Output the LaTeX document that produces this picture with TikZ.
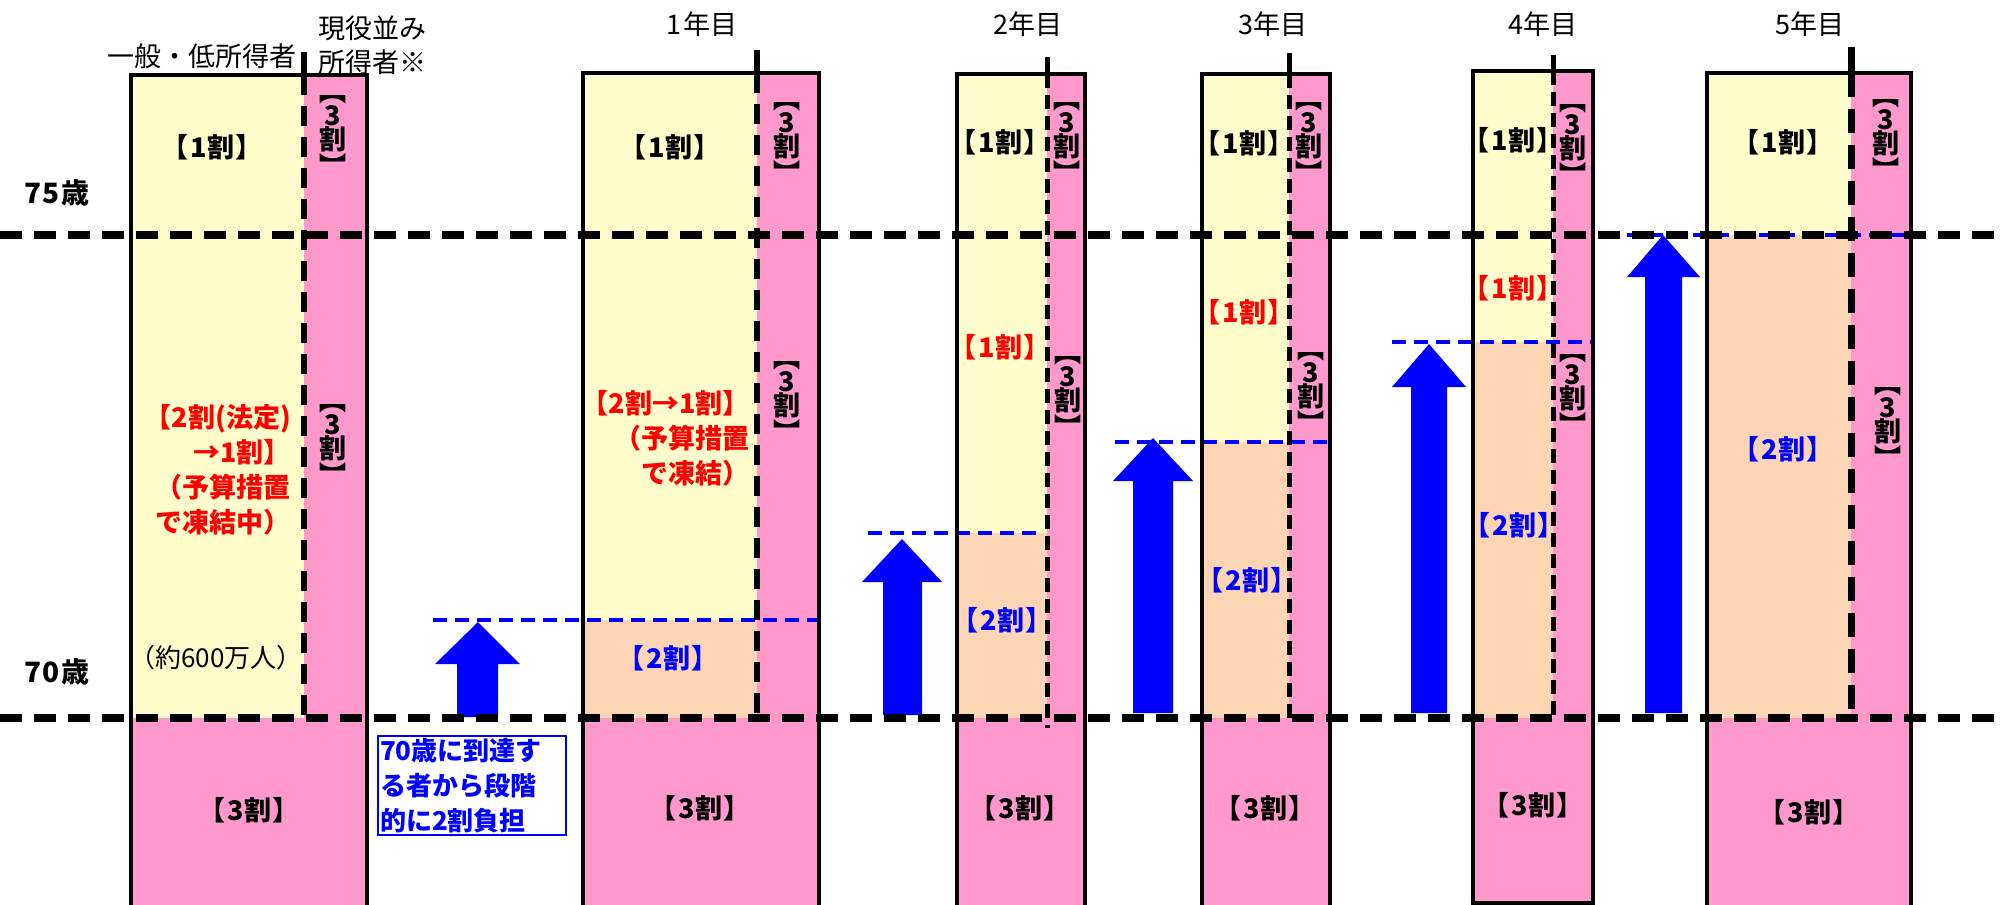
\documentclass[tikz,border=0pt]{standalone}
\usepackage{fontspec}
\setmainfont{Noto Sans CJK JP}
\definecolor{cyel}{RGB}{255,253,204}
\definecolor{cpink}{RGB}{255,153,204}
\definecolor{corg}{RGB}{252,213,180}
\definecolor{cblue}{RGB}{0,0,255}
\definecolor{cred}{RGB}{255,0,0}
\newcommand{\vsan}{︻\\3\\割\\︼}
\newcommand{\wari}[1]{【\kern2pt #1割\kern1pt】}
\begin{document}
\begin{tikzpicture}[x=1pt,y=-1pt,
  outl/.style={line width=4pt,black},
  hdash/.style={line width=8pt,black,dash pattern=on 22pt off 12pt},
  vdash/.style={line width=6pt,black,dash pattern=on 20pt off 11pt},
  vtick/.style={line width=6pt,black},
  bdash/.style={line width=4pt,cblue,dash pattern=on 14pt off 8pt},
  barrow/.style={fill=cblue},
  lbl/.style={font=\fontsize{27}{30}\selectfont\bfseries,inner sep=0pt},
  age/.style={font=\fontsize{28}{30}\selectfont\bfseries,inner sep=0pt},
  vlbl/.style={font=\fontsize{27}{22}\selectfont\bfseries,inner sep=0pt,align=center},
  hdr/.style={font=\fontsize{27}{34}\selectfont,inner sep=0pt},
  redt/.style={font=\fontsize{27}{35}\selectfont\bfseries,inner sep=0pt,text=cred,align=right},
]
\useasboundingbox (0,0) rectangle (2003,905);
% ---- fills
% col 0
\fill[cyel] (131,75) rectangle (304,718);
\fill[cpink] (304,75) rectangle (367,718);
\fill[cpink] (131,718) rectangle (367,905);
% col 1
\fill[cyel] (583,73) rectangle (757,620);
\fill[corg] (583,620) rectangle (757,718);
\fill[cpink] (757,73) rectangle (819,718);
\fill[cpink] (583,718) rectangle (819,905);
% col 2
\fill[cyel] (957,74) rectangle (1047,533);
\fill[corg] (957,533) rectangle (1047,718);
\fill[cpink] (1047,74) rectangle (1085,718);
\fill[cpink] (957,718) rectangle (1085,905);
% col 3
\fill[cyel] (1202,74) rectangle (1289,442);
\fill[corg] (1202,442) rectangle (1289,718);
\fill[cpink] (1289,74) rectangle (1330,718);
\fill[cpink] (1202,718) rectangle (1330,905);
% col 4
\fill[cyel] (1473,71) rectangle (1553,342);
\fill[corg] (1473,342) rectangle (1553,718);
\fill[cpink] (1553,71) rectangle (1593,718);
\fill[cpink] (1473,718) rectangle (1593,903);
% col 5
\fill[cyel] (1707,73) rectangle (1851,235);
\fill[corg] (1707,235) rectangle (1851,718);
\fill[cpink] (1851,73) rectangle (1911,718);
\fill[cpink] (1707,718) rectangle (1911,905);
% ---- blue dashed levels
\draw[bdash] (433,620) -- (820,620);
\draw[bdash] (868,533) -- (1043,533);
\draw[bdash] (1115,442) -- (1329,442);
\draw[bdash] (1392,342) -- (1592,342);
\draw[bdash] (1627,235) -- (1911,235);
% ---- outlines
\draw[outl] (131,905) -- (131,75) -- (367,75) -- (367,905);
\draw[outl] (583,905) -- (583,73) -- (819,73) -- (819,905);
\draw[outl] (957,905) -- (957,74) -- (1085,74) -- (1085,905);
\draw[outl] (1202,905) -- (1202,74) -- (1330,74) -- (1330,905);
\draw[outl] (1473,71) rectangle (1593,903);
\draw[outl] (1707,905) -- (1707,73) -- (1911,73) -- (1911,905);
% ---- middle dashed separators
\draw[vtick] (304,52) -- (304,75);  \draw[vdash] (304,75) -- (304,718);
\draw[vtick] (757,50) -- (757,73);  \draw[vdash] (757,73) -- (757,722);
\draw[vtick,line width=5pt] (1047,57) -- (1047,74); \draw[vdash,line width=5pt,dash pattern=on 14pt off 7pt] (1047,74) -- (1047,728);
\draw[vtick,line width=5pt] (1289,53) -- (1289,74); \draw[vdash,line width=5pt,dash pattern=on 14pt off 7pt] (1289,74) -- (1289,722);
\draw[vtick,line width=5pt] (1553,55) -- (1553,71); \draw[vdash,line width=5pt,dash pattern=on 14pt off 7pt] (1553,71) -- (1553,718);
\draw[vtick,line width=7pt] (1851,47) -- (1851,73); \draw[vdash,line width=7pt,dash pattern=on 24pt off 12pt] (1851,73) -- (1851,718);
% ---- blue arrows
\fill[barrow] (457,717) -- (457,664) -- (435,664) -- (478,622) -- (520,664) -- (498,664) -- (498,717) -- cycle;
\fill[barrow] (883,715) -- (883,582) -- (862,582) -- (902,539) -- (942,582) -- (922,582) -- (922,715) -- cycle;
\fill[barrow] (1133,713) -- (1133,481) -- (1113,481) -- (1153,438) -- (1193,481) -- (1173,481) -- (1173,713) -- cycle;
\fill[barrow] (1411,713) -- (1411,387) -- (1392,387) -- (1429,344) -- (1466,387) -- (1447,387) -- (1447,713) -- cycle;
\fill[barrow] (1645,713) -- (1645,277) -- (1627,277) -- (1663,235) -- (1700,277) -- (1682,277) -- (1682,713) -- cycle;
% ---- age lines
\draw[hdash] (0,235) -- (2003,235);
\draw[hdash] (0,718) -- (2003,718);
% ---- headers
\node[hdr] (h0) at (202,56) {一般・低所得者};
\node[hdr,align=left,anchor=west] (h0b) at (318,45) {現役並み\\所得者※};
\node[hdr] (y1) at (702,24) {1\kern3pt 年目};
\node[hdr] (y2) at (1028,24) {2年目};
\node[hdr] (y3) at (1273,24) {3年目};
\node[hdr] (y4) at (1543,24) {4年目};
\node[hdr] (y5) at (1810,24) {5年目};
\node[age] (a75) at (57,193) {7\kern1pt 5\kern1pt 歳};
\node[age] (a70) at (57,672) {7\kern1pt 0\kern1pt 歳};
% ---- col 0 texts
\node[lbl] (c0a) at (212,147) {\wari{1}};
\node[vlbl] (c0b) at (333,136) {\vsan};
\node[vlbl] (c0c) at (333,445) {\vsan};
\node[redt,anchor=east] (c0d) at (291,470) {【2割(法定)\\→1割】\\（予算措置\\で凍結中）};
\node[font=\fontsize{26}{28}\selectfont,inner sep=0pt] (c0e) at (216,658) {（約600万人）};
\node[lbl] (c0f) at (249,810) {\wari{3}};
% ---- note box
\node[draw=cblue,line width=2pt,text=cblue,font=\fontsize{26}{35}\selectfont\bfseries,align=left,inner sep=2pt,anchor=north west,text width=184pt] (note) at (377,735) {70歳に到達す\\る者から段階\\的に2割負担};
% ---- col 1 texts
\node[lbl] (c1a) at (670,147) {\wari{1}};
\node[vlbl] (c1b) at (787,143) {\vsan};
\node[vlbl] (c1c) at (787,402) {\vsan};
\node[redt,anchor=east] (c1d) at (750,438) {【2割→1割】\\（予算措置\\で凍結）};
\node[lbl,text=cblue] (c1e) at (668,658) {\wari{2}};
\node[lbl] (c1f) at (700,808) {\wari{3}};
% ---- col 2 texts
\node[lbl] (c2a) at (1000,142) {\wari{1}};
\node[vlbl] (c2b) at (1067,143) {\vsan};
\node[lbl,text=cred] (c2c) at (1000,347) {\wari{1}};
\node[vlbl] (c2d) at (1068,397) {\vsan};
\node[lbl,text=cblue] (c2e) at (1002,620) {\wari{2}};
\node[lbl] (c2f) at (1020,808) {\wari{3}};
% ---- col 3 texts
\node[lbl] (c3a) at (1244,143) {\wari{1}};
\node[vlbl] (c3b) at (1309,143) {\vsan};
\node[lbl,text=cred] (c3c) at (1244,312) {\wari{1}};
\node[vlbl] (c3d) at (1311,393) {\vsan};
\node[lbl,text=cblue] (c3e) at (1247,580) {\wari{2}};
\node[lbl] (c3f) at (1265,808) {\wari{3}};
% ---- col 4 texts
\node[lbl] (c4a) at (1513,140) {\wari{1}};
\node[vlbl] (c4b) at (1573,145) {\vsan};
\node[lbl,text=cred] (c4c) at (1513,288) {\wari{1}};
\node[vlbl] (c4d) at (1573,395) {\vsan};
\node[lbl,text=cblue] (c4e) at (1514,525) {\wari{2}};
\node[lbl] (c4f) at (1533,805) {\wari{3}};
% ---- col 5 texts
\node[lbl] (c5a) at (1783,142) {\wari{1}};
\node[vlbl] (c5b) at (1886,140) {\vsan};
\node[vlbl] (c5c) at (1888,428) {\vsan};
\node[lbl,text=cblue] (c5d) at (1783,449) {\wari{2}};
\node[lbl] (c5e) at (1809,812) {\wari{3}};
\end{tikzpicture}
\end{document}
